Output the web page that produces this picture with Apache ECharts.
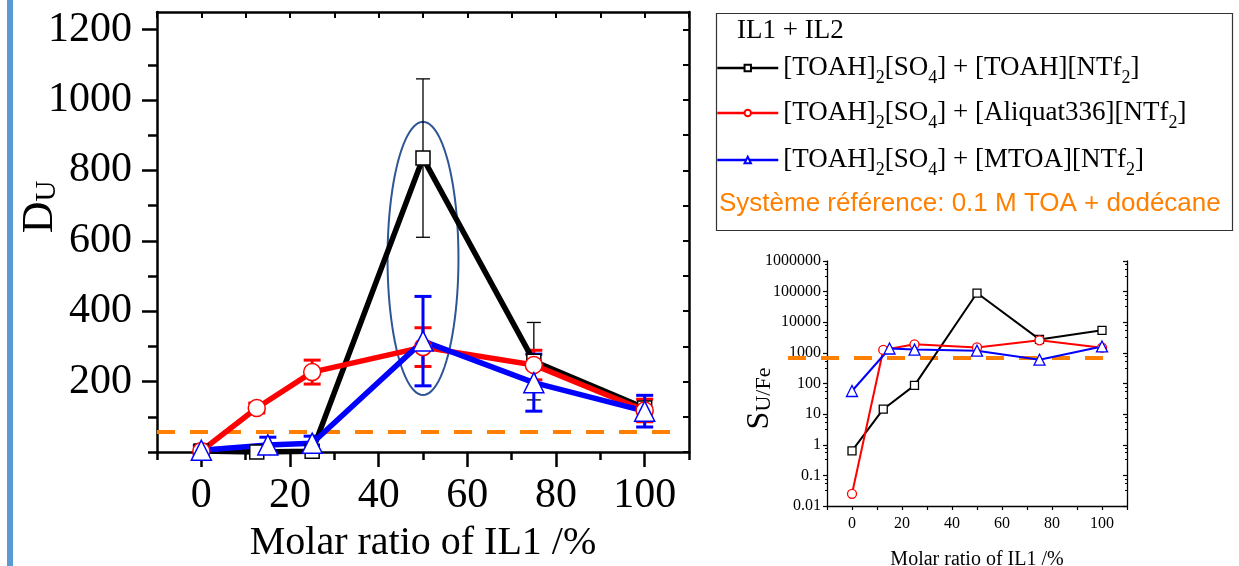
<!DOCTYPE html>
<html>
<head>
<meta charset="utf-8">
<script src="https://cdn.jsdelivr.net/npm/echarts@6/dist/echarts.min.js"></script>
<style>
html, body { margin: 0; padding: 0; background: #fff; }
#chart { width: 1239px; height: 566px; }
</style>
</head>
<body>
<div id="chart"></div>
<script>
// molar ratio of IL1 (%)
const ratioBlack = [0, 12.5, 25, 50, 75, 100];
const ratioRed = [0, 12.5, 25, 50, 75, 100];
const ratioBlue = [0, 15, 25, 50, 75, 100];

// D_U (main plot) + error
const duBlack = [3, 0, 2, 835, 258, 125];
const duBlackErr = [0, 0, 0, 225, 110, 15];
const duRed = [3, 125, 227, 298, 247, 118];
const duRedErr = [8, 14, 34, 55, 42, 32];
const duBlue = [5, 20, 25, 315, 197, 116];
const duBlueErr = [14, 22, 20, 127, 81, 45];
const duReference = 57;
const duReferenceSpan = [-10, 107];

// highlighted zone around 50 %
const ellipseCenter = [50, 550];
const ellipseRadius = [8, 388];

// S_U/Fe (inset, log scale)
const sBlack = [0.63, 14.5, 87, 90000, 2750, 5450];
const sRed = [0.025, 1245, 1900, 1510, 2570, 1480];
const sBlue = [57, 1390, 1280, 1180, 600, 1620];
const sReference = 680;
const sReferenceSpan = [0, 1];

const seriesNames = [
    '[TOAH]2[SO4] + [TOAH][NTf2]',
    '[TOAH]2[SO4] + [Aliquat336][NTf2]',
    '[TOAH]2[SO4] + [MTOA][NTf2]'
];
const xLabels = [0, 20, 40, 60, 80, 100];
const yLabelsMain = [200, 400, 600, 800, 1000, 1200];
const yMajorMain = [200, 400, 600, 800, 1000, 1200];
const yTicksMain = [0, 100, 200, 300, 400, 500, 600, 700, 800, 900, 1000, 1100, 1200];
const xMajorMain = [0, 20, 40, 60, 80, 100];

const SERIF = 'Liberation Serif';
const ORANGE = '#ff8000';

function zip(xs, ys, es) {
    return xs.map((x, i) => es ? [x, ys[i], es[i]] : [x, ys[i]]);
}

// 误差棒
function errorBars(color, width, cap) {
    return function (params, api) {
        const x = api.value(0), y = api.value(1), e = api.value(2);
        if (!e) return;
        const top = api.coord([x, y + e]);
        const bot = api.coord([x, y - e]);
        const style = { stroke: color, lineWidth: width };
        return {
            type: 'group',
            children: [
                { type: 'line', shape: { x1: top[0], y1: top[1], x2: bot[0], y2: bot[1] }, style },
                { type: 'line', shape: { x1: top[0] - cap, y1: top[1], x2: top[0] + cap, y2: top[1] }, style },
                { type: 'line', shape: { x1: bot[0] - cap, y1: bot[1], x2: bot[0] + cap, y2: bot[1] }, style }
            ]
        };
    };
}

function renderEllipse(params, api) {
    const c = api.coord(ellipseCenter);
    const r = api.size(ellipseRadius);
    const pts = [];
    for (let i = 0; i < 96; i++) {
        const a = i / 96 * Math.PI * 2;
        pts.push([c[0] + r[0] * Math.cos(a), c[1] + r[1] * Math.sin(a)]);
    }
    return {
        type: 'polygon',
        shape: { points: pts },
        style: { fill: 'none', stroke: '#2e5596', lineWidth: 2 }
    };
}

const mainColors = ['#000000', '#ff0000', '#0000ff'];
const mainSymbols = ['rect', 'circle', 'triangle'];
const mainSymbolSize = [14, 17, 20];
const insetSymbolSize = [8, 9, 11];
const xs = [ratioBlack, ratioRed, ratioBlue];
const duVals = [duBlack, duRed, duBlue];
const duErrs = [duBlackErr, duRedErr, duBlueErr];
const sVals = [sBlack, sRed, sBlue];

const series = [];
series.push({
    type: 'line', xAxisIndex: 0, yAxisIndex: 0,
    data: zip(duReferenceSpan, [duReference, duReference]),
    symbol: 'none', silent: true,
    lineStyle: { color: ORANGE, width: 4, type: [18, 15] }
});
series.push({
    type: 'custom', xAxisIndex: 0, yAxisIndex: 0,
    data: [ellipseCenter], renderItem: renderEllipse, silent: true
});
for (let i = 0; i < 3; i++) {
    series.push({
        name: seriesNames[i], type: 'line', xAxisIndex: 0, yAxisIndex: 0,
        data: zip(xs[i], duVals[i]),
        symbol: mainSymbols[i], symbolSize: mainSymbolSize[i],
        lineStyle: { color: mainColors[i], width: 5.5 },
        itemStyle: { color: '#fff', borderColor: mainColors[i], borderWidth: 1.5 },
        clip: false
    });
}
const errWidths = [1.3, 3, 3];
const errCaps = [7, 8.5, 8.5];
for (let i = 0; i < 3; i++) {
    series.push({
        type: 'custom', xAxisIndex: 0, yAxisIndex: 0, silent: true,
        data: zip(xs[i], duVals[i], duErrs[i]),
        encode: { x: 0, y: 1 },
        renderItem: errorBars(mainColors[i], errWidths[i], errCaps[i]),
        clip: false
    });
}
// inset
series.push({
    type: 'line', xAxisIndex: 4, yAxisIndex: 5,
    data: zip(sReferenceSpan, [sReference, sReference]),
    symbol: 'none', silent: true,
    lineStyle: { color: ORANGE, width: 4, type: [18, 15] }
});
for (let i = 0; i < 3; i++) {
    series.push({
        name: seriesNames[i], type: 'line', xAxisIndex: 3, yAxisIndex: 3,
        data: zip(xs[i], sVals[i]),
        symbol: mainSymbols[i], symbolSize: insetSymbolSize[i],
        lineStyle: { color: mainColors[i], width: 2 },
        itemStyle: { color: '#fff', borderColor: mainColors[i], borderWidth: 1.3 },
        clip: false
    });
}

const axisLineMain = { show: true, onZero: false, lineStyle: { color: '#000', width: 2.5 } };
const axisLineInset = { show: true, onZero: false, lineStyle: { color: '#000', width: 1.3 } };
const noLine = { show: false, onZero: false };

const logLabel = v => v >= 1 ? String(Math.round(v)) : String(Number(v.toPrecision(2)));

const option = {
    backgroundColor: '#fff',
    animation: false,
    grid: [
        { left: 157, top: 12, width: 532, height: 440, outerBoundsMode: 'none', containLabel: false },
        { left: 827, top: 261, width: 300, height: 245, outerBoundsMode: 'none', containLabel: false },
        { left: 788, top: 261, width: 315, height: 245, outerBoundsMode: 'none', containLabel: false }
    ],
    xAxis: [
        {
            type: 'value', gridIndex: 0, position: 'bottom', min: -10, max: 110, interval: 10,
            axisLine: axisLineMain, splitLine: { show: false },
            axisTick: { show: true, length: 8, lineStyle: { width: 2.5, color: '#000' } },
            axisLabel: { customValues: xLabels, fontFamily: SERIF, fontSize: 42, color: '#000', margin: 23 },
            name: 'Molar ratio of IL1 /%', nameLocation: 'middle', nameGap: 71, nameMoveOverlap: false,
            nameTextStyle: { fontFamily: SERIF, fontSize: 40, color: '#000' }
        },
        {
            type: 'value', gridIndex: 0, position: 'bottom', min: -10, max: 110, interval: 10,
            axisLine: noLine, splitLine: { show: false }, axisLabel: { show: false },
            axisTick: { show: true, customValues: xMajorMain, length: 15, lineStyle: { width: 2.5, color: '#000' } }
        },
        {
            type: 'value', gridIndex: 0, position: 'top', min: -10, max: 110, interval: 10,
            axisLine: axisLineMain, splitLine: { show: false }, axisLabel: { show: false },
            axisTick: { show: true, inside: true, length: 6, lineStyle: { width: 2, color: '#000' } }
        },
        {
            type: 'value', gridIndex: 1, position: 'bottom', min: -10, max: 110, interval: 10,
            axisLine: axisLineInset, splitLine: { show: false },
            axisTick: { show: true, length: 4, lineStyle: { width: 1.2, color: '#000' } },
            axisLabel: { customValues: xLabels, fontFamily: SERIF, fontSize: 16, color: '#000', margin: 10 },
            name: 'Molar ratio of IL1 /%', nameLocation: 'middle', nameGap: 44, nameMoveOverlap: false,
            nameTextStyle: { fontFamily: SERIF, fontSize: 20, color: '#000' }
        },
        { type: 'value', gridIndex: 2, min: 0, max: 1, show: false }
    ],
    yAxis: [
        {
            type: 'value', gridIndex: 0, position: 'left', min: 0, max: 1250, interval: 100,
            axisLine: axisLineMain, splitLine: { show: false },
            axisTick: { show: true, customValues: yTicksMain, length: 9, lineStyle: { width: 2.5, color: '#000' } },
            axisLabel: { customValues: yLabelsMain, formatter: v => String(v), fontFamily: SERIF, fontSize: 42, color: '#000', margin: 25 },
            name: '{a|D}{b|U}', nameLocation: 'middle', nameGap: 95, nameMoveOverlap: false,
            nameTextStyle: {
                padding: [0, 0, 0, 50],
                rich: {
                    a: { fontFamily: SERIF, fontSize: 44, lineHeight: 44, color: '#000' },
                    b: { fontFamily: SERIF, fontSize: 29, lineHeight: 14, verticalAlign: 'bottom', color: '#000' }
                }
            }
        },
        {
            type: 'value', gridIndex: 0, position: 'left', min: 0, max: 1250, interval: 100,
            axisLine: noLine, splitLine: { show: false }, axisLabel: { show: false },
            axisTick: { show: true, customValues: yMajorMain, length: 15, lineStyle: { width: 2.5, color: '#000' } }
        },
        {
            type: 'value', gridIndex: 0, position: 'right', min: 0, max: 1250, interval: 100,
            axisLine: axisLineMain, splitLine: { show: false }, axisLabel: { show: false },
            axisTick: { show: true, inside: true, customValues: yTicksMain, length: 6, lineStyle: { width: 2, color: '#000' } }
        },
        {
            type: 'log', gridIndex: 1, position: 'left', min: 0.01, max: 1000000, logBase: 10, splitNumber: 8,
            axisLine: axisLineInset, splitLine: { show: false },
            axisTick: { show: true, length: 4, lineStyle: { width: 1.2, color: '#000' } },
            minorTick: { show: true, splitNumber: 4, length: 2, lineStyle: { color: '#000', width: 1 } },
            axisLabel: { formatter: logLabel, fontFamily: SERIF, fontSize: 16, color: '#000', margin: 6 },
            name: '{a|S}{b|U/Fe}', nameLocation: 'middle', nameGap: 52, nameMoveOverlap: false,
            nameTextStyle: {
                padding: [0, 30, 0, 0],
                rich: {
                    a: { fontFamily: SERIF, fontSize: 32, lineHeight: 30, color: '#000' },
                    b: { fontFamily: SERIF, fontSize: 22, lineHeight: 10, verticalAlign: 'bottom', color: '#000' }
                }
            }
        },
        {
            type: 'log', gridIndex: 1, position: 'right', min: 0.01, max: 1000000, logBase: 10, splitNumber: 8,
            axisLine: axisLineInset, splitLine: { show: false }, axisLabel: { show: false },
            axisTick: { show: true, inside: true, length: 4, lineStyle: { width: 1.2, color: '#000' } },
            minorTick: { show: true, splitNumber: 4, length: 2, lineStyle: { color: '#000', width: 1 } }
        },
        { type: 'log', gridIndex: 2, min: 0.01, max: 1000000, logBase: 10, show: false }
    ],
    legend: seriesNames.map((n, i) => ({
        data: [n],
        orient: 'vertical',
        left: 711,
        top: [44, 89, 136][i],
        itemWidth: 61,
        itemHeight: 8,
        itemGap: 0,
        selectedMode: false,
        lineStyle: { width: 2.5 },
        formatter: name => name.replace(/(\]|SO|NTf)(\d)/g, '$1{s|$2}'),
        textStyle: {
            fontFamily: SERIF, fontSize: 27, lineHeight: 30, color: '#000',
            rich: {
                s: { fontFamily: SERIF, fontSize: 18, lineHeight: 18, padding: [20, 0, 0, 0], color: '#000' }
            }
        }
    })),
    graphic: [
        { type: 'rect', shape: { x: 7, y: 0, width: 6, height: 566 }, style: { fill: '#5b9bd5' }, silent: true },
        { type: 'rect', shape: { x: 716.5, y: 13.5, width: 516, height: 217 }, style: { fill: 'none', stroke: '#333', lineWidth: 1.2 }, silent: true },
        { type: 'text', x: 737, y: 31, style: { text: 'IL1 + IL2', fontFamily: SERIF, fontSize: 27, fill: '#000', verticalAlign: 'middle', align: 'left' } },
        { type: 'text', x: 719, y: 204, style: { text: 'Système référence: 0.1 M TOA + dodécane', fontFamily: 'Liberation Sans', fontSize: 26, fill: ORANGE, verticalAlign: 'middle', align: 'left' } }
    ],
    series
};

const chart = echarts.init(document.getElementById('chart'), null, { renderer: 'canvas' });
chart.setOption(option);
</script>
</body>
</html>
